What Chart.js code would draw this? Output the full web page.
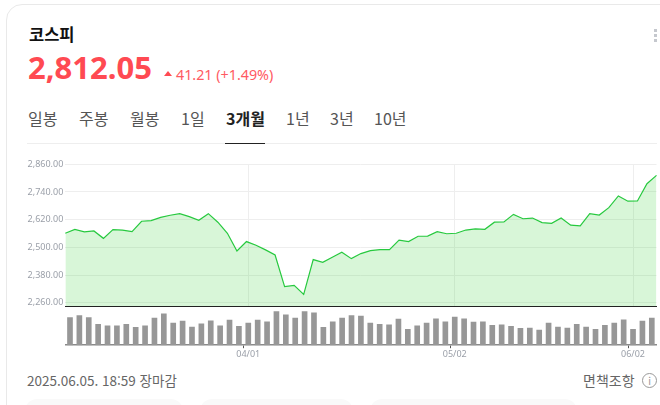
<!DOCTYPE html>
<html lang="ko">
<head>
<meta charset="utf-8">
<title>코스피</title>
<script src="https://cdn.jsdelivr.net/npm/chart.js@4"></script>
<style>
  html, body { margin: 0; width: 660px; height: 405px; overflow: hidden; background: #fff; }
  body { font-family: "Noto Sans CJK KR", "Noto Sans", sans-serif; position: relative; }
  .abs { position: absolute; white-space: nowrap; line-height: 1; }
  .card { position: absolute; left: 6px; top: 4px; width: 700px; height: 500px; border: 1px solid #e9e9e9; border-radius: 16px; }
  .tab { position: absolute; top: 109px; font-size: 16px; line-height: 18px; color: #555; white-space: nowrap; }
  .dot { position: absolute; left: 654px; width: 3px; height: 3px; background: #c5c8ce; }
  .tile { position: absolute; top: 399px; height: 40px; background: #f9f9f9; border-radius: 12px; }
  canvas { position: absolute; }
</style>
</head>
<body>
<div class="card"></div>
<div class="abs" style="left:29px;top:26px;font-size:16.5px;font-weight:700;color:#111">코스피</div>
<div class="abs" style="left:28px;top:52px;font-size:31px;font-weight:700;color:#ff4a52;font-family:'Noto Sans'">2,812.05</div>
<div class="abs" style="left:164px;top:71px;width:0;height:0;border-left:4px solid transparent;border-right:4px solid transparent;border-bottom:5px solid #ff4a52"></div>
<div class="abs" style="left:176px;top:68px;font-size:14.3px;color:#ff5a62;font-family:'Noto Sans'">41.21 (+1.49%)</div>
<div class="dot" style="top:29px"></div>
<div class="dot" style="top:34px"></div>
<div class="dot" style="top:39px"></div>

<div class="tab" style="left:28px">일봉</div>
<div class="tab" style="left:79px">주봉</div>
<div class="tab" style="left:130px">월봉</div>
<div class="tab" style="left:181px">1일</div>
<div class="tab" style="left:226px;font-weight:700;color:#222">3개월</div>
<div class="tab" style="left:286px">1년</div>
<div class="tab" style="left:330px">3년</div>
<div class="tab" style="left:374px">10년</div>
<div class="abs" style="left:27px;top:143px;width:630px;height:1px;background:#eee"></div>
<div class="abs" style="left:225px;top:143px;width:40px;height:1px;background:#222"></div>

<canvas id="priceChart" width="660" height="172" style="left:0;top:150px;width:660px;height:172px"></canvas>
<canvas id="volumeChart" width="660" height="64" style="left:0;top:296.5px;width:660px;height:64px"></canvas>

<div class="abs" style="left:27px;top:374px;font-size:13.5px;color:#666">2025.06.05. 18:59 장마감</div>
<div class="abs" style="left:583px;top:373px;font-size:14px;color:#666">면책조항</div>
<div class="abs" style="left:642px;top:373px;width:13px;height:13px;border:1px solid #999;border-radius:50%;font-size:10px;line-height:13px;text-align:center;color:#999">i</div>

<div class="tile" style="left:25px;width:158px"></div>
<div class="tile" style="left:200px;width:153px"></div>
<div class="tile" style="left:370px;width:207px"></div>

<script>
// trading days, 2025
const dates = [
  "03/05", "03/06", "03/07", "03/10", "03/11", "03/12", "03/13", "03/14", "03/17",
  "03/18", "03/19", "03/20", "03/21", "03/24", "03/25", "03/26", "03/27", "03/28",
  "03/31", "04/01", "04/02", "04/03", "04/04", "04/07", "04/08", "04/09", "04/10",
  "04/11", "04/14", "04/15", "04/16", "04/17", "04/18", "04/21", "04/22", "04/23",
  "04/24", "04/25", "04/28", "04/29", "04/30", "05/02", "05/07", "05/08", "05/09",
  "05/12", "05/13", "05/14", "05/15", "05/16", "05/19", "05/20", "05/21", "05/22",
  "05/23", "05/26", "05/27", "05/28", "05/29", "05/30", "06/02", "06/04", "06/05",
];

const prices = [
  2561, 2578, 2567, 2571, 2539, 2577, 2575, 2568, 2613, 2616,
  2630, 2639, 2646, 2633, 2617, 2646, 2609, 2561, 2484, 2525,
  2509, 2489, 2467, 2330, 2335, 2296, 2447, 2435, 2457, 2479,
  2451, 2473, 2486, 2490, 2490, 2531, 2525, 2548, 2549, 2568,
  2559, 2561, 2575, 2580, 2578, 2609, 2610, 2643, 2624, 2627,
  2607, 2604, 2627, 2596, 2593, 2646, 2640, 2672, 2723, 2700,
  2701, 2776, 2812.05,
];

// no volume axis in the picture, so these are relative bar heights
const volumes = [
  80, 86, 80, 61, 56, 56, 61, 52, 56, 79,
  91, 64, 70, 53, 62, 71, 56, 73, 55, 64,
  73, 68, 98, 88, 79, 98, 94, 52, 68, 79,
  86, 85, 64, 61, 59, 76, 46, 56, 64, 77,
  68, 82, 77, 67, 68, 58, 59, 55, 49, 50,
  44, 64, 53, 50, 61, 53, 46, 58, 64, 74,
  46, 70, 79,
];

const priceTicks = [2260, 2380, 2500, 2620, 2740, 2860];
const dateTicks = ["04/01", "05/02", "06/02"];

const labelColor = "#9a9fa8";
const gridColor = "#eeeeee";
const axisWidth = 65.3;

function isDateTick(i) {
  return dateTicks.includes(dates[i]);
}

new Chart(document.getElementById("priceChart"), {
  type: "line",
  data: {
    labels: dates,
    datasets: [
      {
        data: prices,
        borderColor: "#27c93f",
        borderWidth: 1.2,
        backgroundColor: "rgba(50, 205, 50, 0.19)",
        fill: "start",
        pointRadius: 0,
        tension: 0,
      },
    ],
  },
  options: {
    responsive: false,
    animation: false,
    layout: { padding: { top: 14.3, right: 3.5, bottom: 8 } },
    plugins: { legend: { display: false }, tooltip: { enabled: false } },
    scales: {
      x: {
        offset: false,
        ticks: { display: false },
        grid: { display: false },
        border: { display: true, color: "#222", width: 1 },
      },
      // same slots as the bars below, only here for the vertical lines
      xDates: {
        type: "category",
        labels: dates,
        position: "bottom",
        offset: true,
        ticks: { display: false, autoSkip: false },
        grid: {
          drawTicks: false,
          offset: false,
          color: (ctx) => (isDateTick(ctx.index) ? gridColor : "transparent"),
        },
        border: { display: false },
      },
      y: {
        min: 2245.7,
        max: 2860,
        afterBuildTicks: (axis) => {
          axis.ticks = priceTicks.map((value) => ({ value }));
        },
        afterFit: (axis) => {
          axis.width = axisWidth;
        },
        ticks: {
          color: labelColor,
          padding: 2,
          font: { family: "Noto Sans", size: 9 },
          callback: (value) =>
            value.toLocaleString("en-US", { minimumFractionDigits: 2 }),
        },
        grid: { color: gridColor, drawTicks: false },
        border: { display: false },
      },
    },
  },
});

new Chart(document.getElementById("volumeChart"), {
  type: "bar",
  data: {
    labels: dates,
    datasets: [
      {
        data: volumes,
        backgroundColor: "#979797",
        barThickness: 5,
      },
    ],
  },
  options: {
    responsive: false,
    animation: false,
    layout: { padding: { top: 9, right: 3.5 } },
    plugins: { legend: { display: false }, tooltip: { enabled: false } },
    scales: {
      x: {
        offset: true,
        ticks: {
          color: labelColor,
          autoSkip: false,
          maxRotation: 0,
          padding: 1,
          font: { family: "Noto Sans", size: 9 },
          callback: (value, i) => (isDateTick(i) ? dates[i] : ""),
        },
        grid: {
          drawOnChartArea: false,
          tickLength: 3,
          tickColor: (ctx) => (isDateTick(ctx.index) ? "#555" : "transparent"),
        },
        border: { display: true, color: "#8a8a8a", width: 1.5 },
      },
      y: {
        min: 0,
        max: 114,
        afterFit: (axis) => {
          axis.width = axisWidth;
        },
        ticks: { display: false },
        grid: { display: false },
        border: { display: false },
      },
    },
  },
});
</script>
</body>
</html>
